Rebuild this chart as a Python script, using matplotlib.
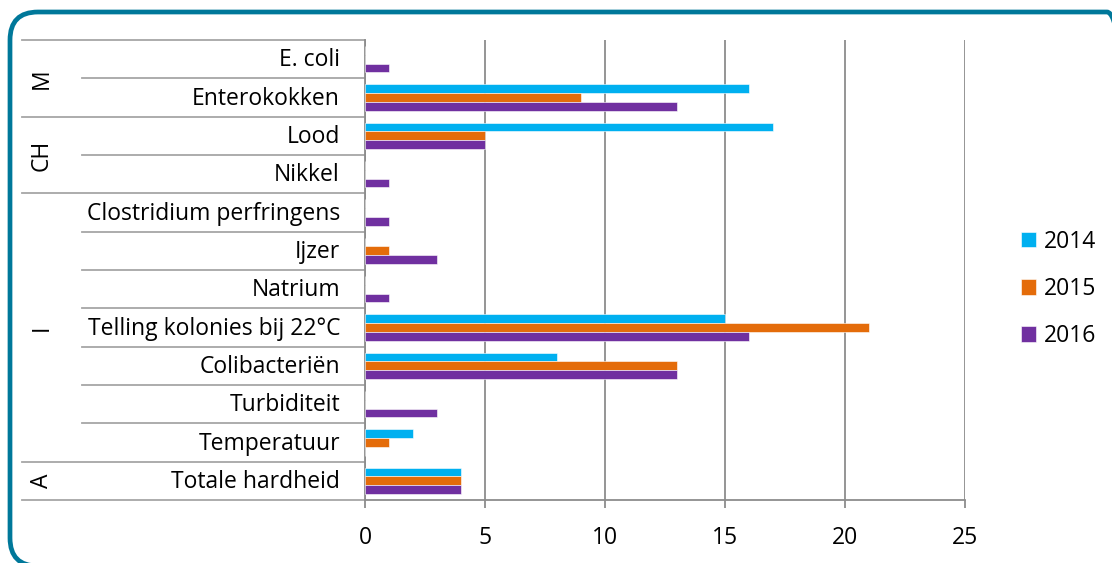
import matplotlib
matplotlib.use("Agg")
import matplotlib.pyplot as plt
import matplotlib.transforms as mtransforms
from matplotlib.patches import FancyBboxPatch
import numpy as np

plt.rcParams["font.family"] = ["Open Sans", "DejaVu Sans"]

# Parameters per group, top to bottom
parameters = [
    "E. coli", "Enterokokken", "Lood", "Nikkel", "Clostridium perfringens",
    "Ijzer", "Natrium", "Telling kolonies bij 22°C", "Colibacteriën",
    "Turbiditeit", "Temperatuur", "Totale hardheid",
]
groups = ["M", "CH", "I", "A"]
group_sizes = [2, 2, 7, 1]

years = ["2014", "2015", "2016"]
counts_2014 = [0, 16, 17, 0, 0, 0, 0, 15, 8, 0, 2, 4]
counts_2015 = [0, 9, 5, 0, 0, 1, 0, 21, 13, 0, 1, 4]
counts_2016 = [1, 13, 5, 1, 1, 3, 1, 16, 13, 3, 0, 4]
colors = ["#00B0F0", "#E46C0A", "#7030A0"]

W, H = 1112, 563
FS = 16.5
fig = plt.figure(figsize=(W / 100, H / 100), dpi=100)

# rounded teal frame, drawn in pixel coordinates
frame = FancyBboxPatch((10, -3), 1125, H - 12 + 3,
                       boxstyle="round,pad=0,rounding_size=28",
                       transform=mtransforms.IdentityTransform(),
                       facecolor="none", edgecolor="#00789A", linewidth=3.4)
fig.patches.append(frame)

ax = fig.add_axes([365 / W, 1 - 500 / H, 600 / W, 460 / H])

n = len(parameters)
y = np.arange(n)
bar_h = 0.23
series = [counts_2014, counts_2015, counts_2016]
for i, (vals, col, lab) in enumerate(zip(series, colors, years)):
    ax.barh(y + (i - 1) * bar_h, vals, height=bar_h, color=col, label=lab,
            edgecolor="white", linewidth=0.4, zorder=3)

ax.set_xlim(0, 25)
ax.set_ylim(n - 0.5, -0.5)
ax.set_xticks(range(0, 26, 5))
ax.set_yticks([])
ax.grid(axis="x", color="#8C8C8C", linewidth=1.3, zorder=0)
for s in ["top", "right"]:
    ax.spines[s].set_visible(False)
for s in ["left", "bottom"]:
    ax.spines[s].set_color("#8C8C8C")
    ax.spines[s].set_linewidth(1.3)
ax.tick_params(axis="x", length=6, width=1.3, color="#8C8C8C",
               labelsize=FS, pad=13)

# category labels and separator lines in the left margin
trans = mtransforms.blended_transform_factory(fig.transFigure, ax.transData)
line_kw = dict(color="#A6A6A6", linewidth=1.3, transform=trans, clip_on=False)
for k, name in enumerate(parameters):
    ax.text(340 / W, k + 0.03, name, transform=trans, ha="right", va="center",
            fontsize=FS)

bounds = np.concatenate([[0], np.cumsum(group_sizes)])
for edge in range(n + 1):
    x0 = 22 / W if edge in bounds else 82 / W
    ax.plot([x0, 365 / W], [edge - 0.5, edge - 0.5], **line_kw)

for g, start, stop in zip(groups, bounds[:-1], bounds[1:]):
    ax.text(42 / W, (start + stop - 1) / 2, g, transform=trans, rotation=90,
            ha="center", va="center", fontsize=FS)

leg = fig.legend(loc="center left", bbox_to_anchor=(1000 / W, 1 - 289 / H),
                 frameon=False, fontsize=FS, handlelength=0.68,
                 handleheight=0.68, handletextpad=0.35, labelspacing=1.02)

fig.savefig("out.png", dpi=100)
